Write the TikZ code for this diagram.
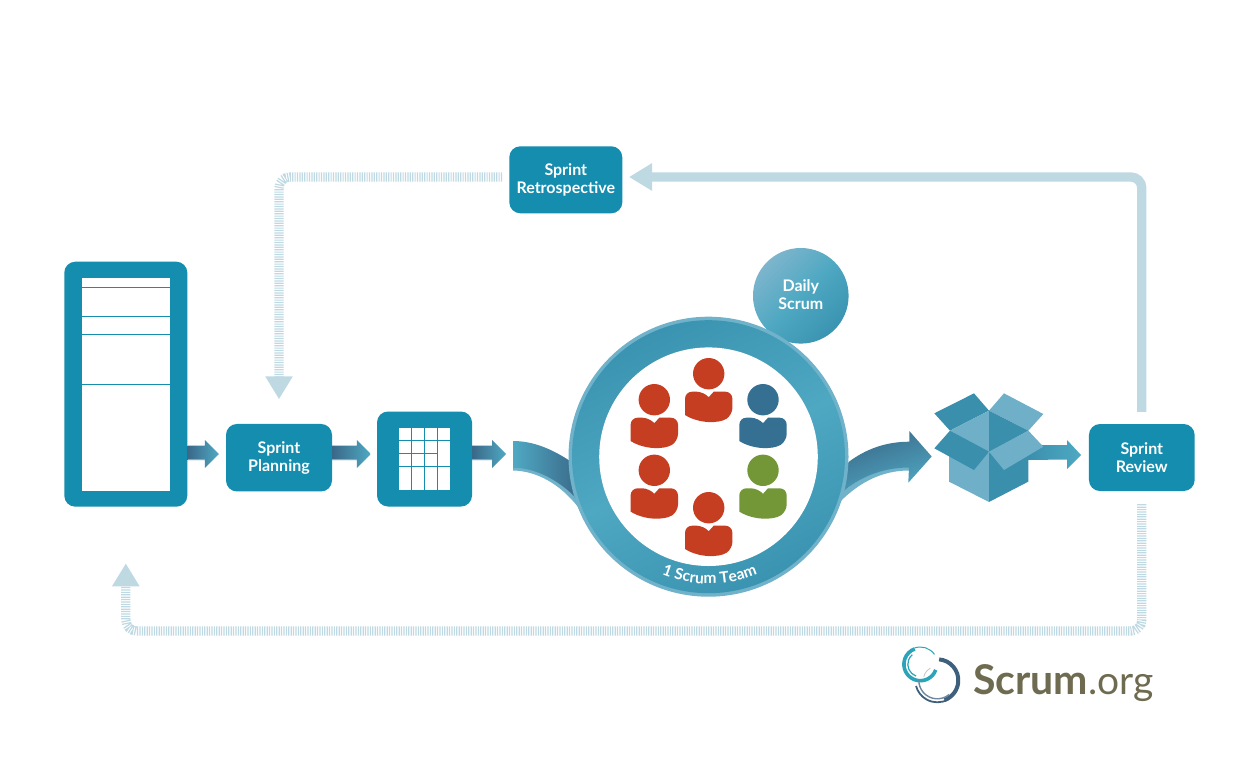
\documentclass[tikz,border=0pt]{standalone}
\usepackage{fontspec}
\setmainfont{Lato}
\usetikzlibrary{arrows.meta,calc,decorations.text,shadings}
\definecolor{boxc}{HTML}{158DAE}
\definecolor{fbc}{HTML}{BFD9E3}
\definecolor{rimc}{HTML}{70B2CA}
\definecolor{darkflow}{HTML}{3A6888}
\definecolor{lightflow}{HTML}{4FA9C3}
\definecolor{ringa}{HTML}{3A93B0}
\definecolor{ringb}{HTML}{4FA8C2}
\definecolor{dailya}{HTML}{7DB5CC}
\definecolor{redp}{HTML}{C63E22}
\definecolor{bluep}{HTML}{356F92}
\definecolor{greenp}{HTML}{739636}
\definecolor{boxd}{HTML}{3A8FAD}
\definecolor{boxl}{HTML}{6FB0C8}
\definecolor{olive}{HTML}{6F6B50}
\definecolor{tealr}{HTML}{2BA3B8}
\definecolor{darkr}{HTML}{3F607C}
\tikzset{
  labelbox/.style={fill=boxc,rounded corners=11pt,inner sep=0pt,text=white,align=center,
    font=\fontsize{16}{18}\selectfont\bfseries},
  fbsolid/.style={draw=fbc,line width=9.3pt,rounded corners=11pt,
    -{Triangle[length=23pt,width=26pt]}},
  fbdash/.style={fbsolid,dash pattern=on 1.2pt off 1.2pt},
  pics/person/.style={code={
    \fill[#1] (0,0) circle[radius=15.7];
    \fill[#1] (-23.7,41.3) [rounded corners=7pt] -- (-23.7,18) -- (-5,18) [sharp corners] -- (0,23.5) -- (5,18) [rounded corners=7pt] -- (23.7,18) -- (23.7,41.3) [sharp corners] .. controls (10,50) and (-10,50) .. cycle;
  }},
}
% straight flow arrow from point #1 to tip point #2
\newcommand{\flowarrow}[2]{%
  \shade[left color=darkflow,right color=lightflow]
    ($(#1)+(0,-8.5)$) -- ($(#2)+(-14,-8.5)$) -- ($(#2)+(-14,-14)$) -- (#2) -- ($(#2)+(-14,14)$) -- ($(#2)+(-14,6)$) -- ($(#1)+(0,6)$) -- cycle;
  \fill[rimc] ($(#1)+(0,4.8)$) -- ($(#2)+(-14,4.8)$) -- ($(#2)+(-14,6)$) -- ($(#1)+(0,6)$) -- cycle;}
\begin{document}
\begin{tikzpicture}[x=1pt,y=-1pt]
\useasboundingbox (0,0) rectangle (1249,779);
\fill[white] (0,0) rectangle (1249,779);

% main boxes
\node[labelbox,minimum width=123pt,minimum height=245pt] (backlog) at (125.8,384.2) {};
\node[fill=white,inner sep=0pt,minimum width=88pt,minimum height=213pt] (page) at (126,384.5) {};
\foreach \yy in {287.5,316.5,334.5,384.5}
  \draw[boxc,line width=0.9pt] (page.west |- 0,\yy) -- (page.east |- 0,\yy);
\node[labelbox,minimum width=106pt,minimum height=67.5pt] (planning) at (279,457.7) {Sprint\\Planning};
\node[labelbox,minimum width=95pt,minimum height=95pt] (sbacklog) at (424.5,459) {};
\node[fill=white,inner sep=0pt,minimum width=51pt,minimum height=62pt] (gridp) at (424.5,459) {};
\foreach \xx in {411.7,424.6,437.5}
  \draw[boxc,line width=0.9pt] (\xx,428) -- (\xx,490);
\draw[boxc,line width=0.9pt] (399,440.3) -- (450,440.3);
\draw[boxc,line width=0.9pt] (399,453.3) -- (437.5,453.3);
\draw[boxc,line width=0.9pt] (399,466.3) -- (450,466.3);
\node[labelbox,minimum width=113pt,minimum height=67pt] (retro) at (565.8,179.8) {Sprint\\Retrospective};
\node[labelbox,minimum width=105.7pt,minimum height=67pt] (review) at (1141.8,457.5) {Sprint\\Review};

% feedback connectors
\coordinate (retroin) at ([yshift=2.8pt]retro.east);
\coordinate (retroout) at ([yshift=2.8pt]retro.west);
\coordinate (tr) at (review.north |- retroin);
\coordinate (tl) at (planning.north |- retroout);
\coordinate (br) at (1141.8,631);
\coordinate (bl) at (125.8,631);
\draw[fbsolid,shorten <=12pt,shorten >=6.5pt] (review.north) -- (tr) -- (retroin);
\draw[fbdash,shorten <=7pt,shorten >=24.5pt] (retroout) -- (tl) -- (planning.north);
\draw[fbdash,shorten <=13pt,shorten >=56.5pt] (review.south) -- (br) -- (bl) -- (backlog.south);

% straight flow arrows
\coordinate (a1) at ([yshift=3.7pt]backlog.east |- planning.west);
\coordinate (t1) at ([xshift=-7pt,yshift=3.7pt]planning.west);
\flowarrow{a1}{t1}
\coordinate (a2) at ([yshift=3.7pt]planning.east);
\coordinate (t2) at ([xshift=-6pt,yshift=3.7pt]sbacklog.west |- planning.east);
\flowarrow{a2}{t2}
\coordinate (a3) at ([yshift=3.7pt]sbacklog.east |- planning.east);
\coordinate (t3) at (506,454);
\flowarrow{a3}{t3}

% daily scrum circle
\node[circle,inner sep=0pt,minimum size=95.6pt,top color=dailya,bottom color=ringa,middle color=ringb,shading angle=45] (daily) at (800.8,295.8) {};
\node[text=white,align=center,font=\fontsize{16}{18}\selectfont\bfseries] (dailyt) at (800.8,294.5) {Daily\\Scrum};

% curved flow in
\fill[rimc] (513,467) .. controls (535,467) and (558,480) .. (574,495) -- (590,530) -- (578,507) .. controls (560,484) and (537,471) .. (513,470.5) -- cycle;
\shade[left color=lightflow,right color=darkflow] (513,441) .. controls (533,441) and (552,449) .. (570,461) -- (580,510) -- (574,496) .. controls (558,480) and (535,467.7) .. (513,467.7) -- cycle;
% curved flow out
\fill[rimc] (909,467) .. controls (882,467) and (858,478) .. (841.7,493) -- (825,515) -- (835,507) .. controls (856,484) and (880,470.5) .. (909,470.5) -- cycle;
\shade[left color=darkflow,right color=lightflow,shading angle=20] (849,461.7) .. controls (866,449) and (886,441.7) .. (909.3,441.7) -- (909.3,431) -- (931.7,456.5) -- (908.3,482.7) -- (909,467.5) .. controls (882,467.5) and (858,478) .. (841.7,493) -- (836,480) -- cycle;

% team ring
\node[circle,inner sep=0pt,minimum size=280pt,fill=rimc] (ringrim) at (708.5,456.7) {};
\node[circle,inner sep=0pt,minimum size=273pt,top color=ringa,bottom color=ringa,middle color=ringb,shading angle=25] (ring) at (ringrim.center) {};
\node[circle,inner sep=0pt,minimum size=218.6pt,fill=white] (hole) at (ringrim.center) {};
\begin{scope}[shift={(ringrim.center)},x=1pt,y=1pt]
\path[decorate,decoration={text along path,text align=center,
   text={|\fontsize{15.5}{15.5}\selectfont\bfseries\color{white}|1 Scrum Team}}]
   (240:127) arc[start angle=240,end angle=301,radius=127];
\end{scope}

% people
\pic (p1) at (708.7,373.7) {person=redp};
\pic (p2) at (654.3,399.7) {person=redp};
\pic (p3) at (763,399.7) {person=bluep};
\pic (p4) at (654.3,470.3) {person=redp};
\pic (p5) at (763,470.3) {person=greenp};
\pic (p6) at (708.7,507.7) {person=redp};

% arrow out of the box, then the box
\coordinate (t4) at (1081,455);
\shade[left color=boxd,right color=lightflow] (1028,445) -- ($(t4)+(-14,-10)$) -- ($(t4)+(-14,-15)$) -- (t4) -- ($(t4)+(-14,14)$) -- ($(t4)+(-14,4.5)$) -- (1028,460) -- cycle;
\begin{scope}[shift={(880,380)},x=0.3333pt,y=-0.3333pt]
 \fill[boxd] (327,92) -- (282,40) -- (163,100) -- (210,152) -- cycle;
 \fill[boxl] (327,92) -- (372,40) -- (490,102) -- (445,152) -- cycle;
 \fill[boxl] (327,92) -- (210,152) -- (327,218) -- cycle;
 \fill[boxd] (327,92) -- (445,152) -- (327,218) -- cycle;
 \fill[boxl] (207,175) -- (327,218) -- (327,366) -- (207,305) -- cycle;
 \fill[boxd] (445,175) -- (327,218) -- (327,366) -- (445,305) -- cycle;
 \fill[boxd] (210,152) -- (163,205) -- (282,270) -- (327,215) -- cycle;
 \fill[boxl] (445,152) -- (490,200) -- (372,270) -- (327,215) -- cycle;
\end{scope}

% logo
\begin{scope}[shift={(920.3,664.3)},x=1pt,y=1pt]
 \draw[tealr,line width=3.6pt] (-20:16.4) arc[start angle=-20,end angle=-250,radius=16.4];
 \draw[tealr,line width=1pt] (110:17.3) arc[start angle=110,end angle=35,radius=17.3];
 \draw[tealr,line width=1.2pt] (250:12.5) arc[start angle=250,end angle=130,radius=12.5];
\end{scope}
\begin{scope}[shift={(937.3,680.3)},x=1pt,y=1pt]
 \draw[darkr,line width=4pt] (85:21) arc[start angle=85,end angle=-70,radius=21];
 \draw[darkr,line width=1.8pt] (-60:22) arc[start angle=-60,end angle=-165,radius=22];
 \draw[darkr!75,line width=1.4pt] (-50:18.5) arc[start angle=-50,end angle=-180,radius=18.5];
 \draw[gray!50,line width=0.7pt] (165:14) arc[start angle=165,end angle=120,radius=14];
\end{scope}
\node[anchor=base west,inner sep=0pt,text=olive,font=\fontsize{41}{41}\selectfont\bfseries] (logo1) at (973,694) {Scrum};
\node[anchor=base west,inner sep=0pt,text=olive,font=\fontsize{39}{39}\selectfont] (logo2) at (logo1.base east) {.org};
\end{tikzpicture}
\end{document}
